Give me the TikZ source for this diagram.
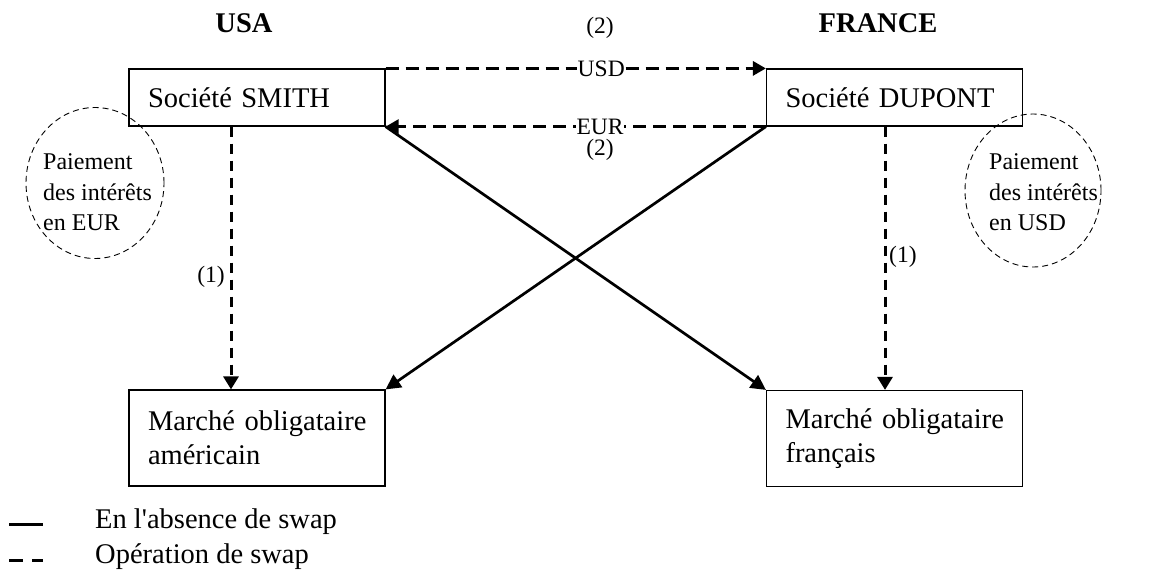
\documentclass[tikz,border=0pt]{standalone}
\usepackage{fontspec}
\setmainfont{Liberation Serif}
\newfontfamily\plainserif{Liberation Serif}[Ligatures=TeXOff]
\usetikzlibrary{arrows.meta,shapes.geometric}
\begin{document}
\begin{tikzpicture}[x=1pt,y=-1pt,
  box/.style={draw, line width=1.2pt, minimum height=57pt, text width=218pt,
    inner xsep=19pt, inner ysep=0pt, align=left,
    font=\fontsize{28.5}{34}\selectfont},
  title/.style={font=\bfseries\fontsize{28.5}{34}\selectfont},
  lbl/.style={font=\fontsize{23.5}{28}\selectfont, inner sep=1pt},
  swaph/.style={line width=3pt, dash pattern=on 13pt off 7pt, -{Triangle[length=13pt,width=14pt]}},
  swapv/.style={line width=3pt, dash pattern=on 10pt off 7pt, -{Triangle[length=13pt,width=15pt]}},
  direct/.style={line width=2.7pt, -{Triangle[length=15pt,width=15pt]}},
  bubble/.style={draw, ellipse, line width=0.9pt, dash pattern=on 6pt off 4pt, inner sep=0pt},
  bubtext/.style={anchor=west, align=left, inner sep=0pt, font=\fontsize{24}{30.5}\selectfont},
  legtext/.style={anchor=west, inner sep=0pt, font=\fontsize{28.5}{34}\selectfont}]
\useasboundingbox (0,0) rectangle (1158,578);

\node[title] (usa) at (244,23) {USA};
\node[title] (france) at (878,23) {FRANCE};

\node[box] (smith) at (257,97.5) {Société SMITH};
\node[box] (dupont) at (894.5,97.5) {Société DUPONT};
\node[box, minimum height=96pt] (amer) at (257,438) {\mbox{Marché obligataire}\\américain};
\node[box, minimum height=96pt] (fr) at (894.5,438.5) {\mbox{Marché obligataire}\\français};

\node[bubble, minimum width=138pt, minimum height=151pt] (c1) at (95,183) {};
\node[bubtext] (t1) at (43,192.5) {Paiement\\des intérêts\\en EUR};
\node[bubble, minimum width=136pt, minimum height=153pt] (c2) at (1033,190.5) {};
\node[bubtext] (t2) at (989,192.5) {Paiement\\des intérêts\\en USD};

\coordinate (x1) at (231,0);
\coordinate (x2) at (885,0);

\draw[swaph] (smith.north east) -- node[pos=0.567, lbl, fill=white, inner sep=0.5pt] (usd) {USD} (dupont.north west);
\draw[swaph] (dupont.south west) -- node[pos=0.436, lbl, fill=white, inner sep=0.5pt] (eur) {EUR} (smith.south east);
\node[lbl, inner sep=0pt] (n2a) at (600,28) {(2)};
\node[lbl, inner sep=0pt] (n2b) at (600,150) {(2)};

\draw[swapv] (smith.south -| x1) -- (amer.north -| x1);
\draw[swapv] (dupont.south -| x2) -- (fr.north -| x2);
\node[lbl, anchor=east] (n1a) at (226,277) {(1)};
\node[lbl, anchor=west] (n1b) at (888,257) {(1)};

\draw[direct] (smith.south east) -- (fr.north west);
\draw[direct] (dupont.south west) -- (amer.north east);

\coordinate (la1) at (9,524);
\coordinate (la2) at (43,524);
\coordinate (lb1) at (9,560);
\coordinate (lb2) at (43,560);
\draw[line width=3pt] (la1) -- (la2);
\draw[line width=3pt, dash pattern=on 14pt off 9pt] (lb1) -- (lb2);
\node[legtext] (leg1) at (95,522) {\plainserif En l'absence de swap};
\node[legtext] (leg2) at (95,557) {Opération de swap};
\end{tikzpicture}
\end{document}
